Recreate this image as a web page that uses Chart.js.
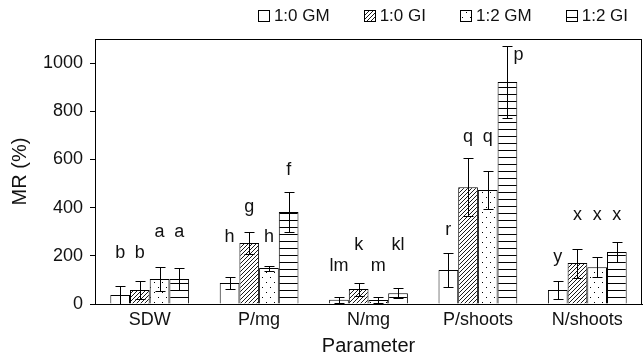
<!DOCTYPE html>
<html>
<head>
<meta charset="utf-8">
<script src="https://cdn.jsdelivr.net/npm/chart.js@4.4.1/dist/chart.umd.min.js"></script>
<style>
  html, body { margin: 0; padding: 0; background: #fff; }
  #wrap { width: 643px; height: 356px; }
</style>
</head>
<body>
<div id="wrap"><canvas id="chart" width="643" height="356"></canvas></div>
<script>
const categories = ["SDW", "P/mg", "N/mg", "P/shoots", "N/shoots"];
const seriesNames = ["1:0 GM", "1:0 GI", "1:2 GM", "1:2 GI"];

// mean MR (%) per parameter
const gm10 = [37, 87, 18, 141, 58];
const gi10 = [58, 253, 62, 485, 170];
const gm12 = [104, 149, 17, 473, 153];
const gi12 = [104, 382, 45, 921, 216];

// error bars (+/-)
const gm10Err = [38, 25, 12, 70, 38];
const gi10Err = [37, 46, 27, 120, 60];
const gm12Err = [50, 10, 12, 79, 42];
const gi12Err = [46, 83, 20, 148, 41];

// significance letters and the height they sit at
const gm10Letters = ["b", "h", "lm", "r", "y"];
const gi10Letters = ["b", "g", "k", "q", "x"];
const gm12Letters = ["a", "h", "m", "q", "x"];
const gi12Letters = ["a", "f", "kl", "p", "x"];
const gm10LetterAt = [211, 278, 158, 307, 195];
const gi10LetterAt = [211, 403, 245, 693, 369];
const gm12LetterAt = [300, 278, 158, 693, 369];
const gi12LetterAt = [300, 556, 245, 1033, 369];

const yTicks = [0, 200, 400, 600, 800, 1000];

const FONT = "'Liberation Sans', Arial, Helvetica, sans-serif";
const INK = "#111";

function makePattern(kind) {
  const c = document.createElement("canvas");
  const p = c.getContext("2d");
  if (kind === "diag") {
    c.width = 4; c.height = 4;
    p.fillStyle = "#fff"; p.fillRect(0, 0, 4, 4);
    p.strokeStyle = "#000"; p.lineWidth = 0.9;
    p.beginPath();
    p.moveTo(-1, 5); p.lineTo(5, -1);
    p.moveTo(-1, 1); p.lineTo(1, -1);
    p.moveTo(3, 5); p.lineTo(5, 3);
    p.stroke();
  } else if (kind === "dots") {
    c.width = 8; c.height = 10;
    p.fillStyle = "#fff"; p.fillRect(0, 0, 8, 10);
    p.fillStyle = "#000";
    p.fillRect(2, 2, 1, 1);
    p.fillRect(6, 7, 1, 1);
  } else if (kind === "hlines") {
    c.width = 4; c.height = 7;
    p.fillStyle = "#fff"; p.fillRect(0, 0, 4, 7);
    p.fillStyle = "#000";
    p.fillRect(0, 3, 4, 1);
  } else {
    c.width = 2; c.height = 2;
    p.fillStyle = "#fff"; p.fillRect(0, 0, 2, 2);
  }
  return p.createPattern(c, "repeat");
}

const fills = [makePattern("plain"), makePattern("diag"), makePattern("dots"), makePattern("hlines")];
const values = [gm10, gi10, gm12, gi12];
const errors = [gm10Err, gi10Err, gm12Err, gi12Err];
const letters = [gm10Letters, gi10Letters, gm12Letters, gi12Letters];
const letterAt = [gm10LetterAt, gi10LetterAt, gm12LetterAt, gi12LetterAt];

const errorBars = {
  id: "errorBars",
  afterDatasetsDraw(chart) {
    const ctx = chart.ctx;
    const y = chart.scales.y;
    ctx.save();
    ctx.strokeStyle = "#000";
    ctx.lineWidth = 1;
    chart.data.datasets.forEach((ds, i) => {
      const meta = chart.getDatasetMeta(i);
      meta.data.forEach((bar, j) => {
        const v = values[i][j], e = errors[i][j];
        const x = Math.round(bar.x) + 0.5;
        const yt = Math.round(y.getPixelForValue(v + e)) + 0.5;
        const yb = Math.round(y.getPixelForValue(Math.max(v - e, 0))) + 0.5;
        ctx.beginPath();
        ctx.moveTo(x, yt); ctx.lineTo(x, yb);
        ctx.moveTo(x - 5, yt); ctx.lineTo(x + 5, yt);
        if (v - e > 0) { ctx.moveTo(x - 5, yb); ctx.lineTo(x + 5, yb); }
        ctx.stroke();
        const ly = y.getPixelForValue(letterAt[i][j]);
        let lx = bar.x;
        if (letterAt[i][j] < v + e) lx += 11;
        ctx.fillStyle = INK;
        ctx.font = "18px " + FONT;
        ctx.textAlign = "center";
        ctx.textBaseline = "middle";
        ctx.fillText(letters[i][j], lx, ly);
      });
    });
    ctx.restore();
  }
};

// frame around the plot and the legend row above it
const frameAndLegend = {
  id: "frameAndLegend",
  afterDraw(chart) {
    const a = chart.chartArea;
    const ctx = chart.ctx;
    ctx.save();
    ctx.strokeStyle = "#000";
    ctx.lineWidth = 1;
    ctx.strokeRect(Math.round(a.left) + 0.5, Math.round(a.top) + 0.5,
      Math.round(a.right - a.left) - 1, Math.round(a.bottom - a.top));

    ctx.font = "17px " + FONT;
    ctx.textBaseline = "middle";
    ctx.textAlign = "left";
    const box = 11, gap = 5, spacing = 34, ly = 15;
    const widths = seriesNames.map(n => box + gap + ctx.measureText(n).width);
    let x = a.right - 14 - widths.reduce((s, w) => s + w, 0) - spacing * (widths.length - 1);
    seriesNames.forEach((name, i) => {
      const bx = Math.round(x) + 0.5, by = Math.round(ly - box / 2) + 0.5;
      ctx.fillStyle = fills[i];
      ctx.fillRect(bx, by, box, box);
      ctx.strokeRect(bx, by, box, box);
      ctx.fillStyle = INK;
      ctx.fillText(name, x + box + gap, ly + 1);
      x += widths[i] + spacing;
    });
    ctx.restore();
  }
};

const data = {
  labels: categories,
  datasets: seriesNames.map((name, i) => ({
    label: name,
    data: values[i],
    backgroundColor: fills[i],
    borderColor: "#000",
    borderWidth: 1,
    borderSkipped: "bottom",
    categoryPercentage: 0.72,
    barPercentage: 1.0
  }))
};

const config = {
  type: "bar",
  data: data,
  options: {
    responsive: false,
    animation: false,
    devicePixelRatio: 1,
    layout: { padding: { left: 0, right: 1, top: 39, bottom: 0 } },
    plugins: {
      tooltip: { enabled: false },
      legend: { display: false }
    },
    scales: {
      x: {
        afterFit(scale) { scale.height = 52; },
        grid: { display: false, drawTicks: false },
        border: { display: true, color: "#000" },
        ticks: { color: INK, font: { family: FONT, size: 18 }, padding: 5 },
        title: {
          display: true,
          text: "Parameter",
          color: INK,
          font: { family: FONT, size: 20, lineHeight: 1 },
          padding: { top: 0, bottom: 0 }
        }
      },
      y: {
        min: 0,
        max: 1100,
        afterFit(scale) { scale.width = 95; },
        afterBuildTicks(scale) {
          scale.ticks = yTicks.map(v => ({ value: v }));
        },
        ticks: {
          color: INK,
          font: { family: FONT, size: 18 },
          padding: 7,
          callback: v => String(v)
        },
        grid: { display: true, drawOnChartArea: false, tickLength: 5, color: "#000" },
        border: { display: true, color: "#000" },
        title: {
          display: true,
          text: "MR (%)",
          color: INK,
          font: { family: FONT, size: 20, lineHeight: 1 },
          padding: { top: 10, bottom: 0 }
        }
      }
    }
  },
  plugins: [errorBars, frameAndLegend]
};

const chart = new Chart(document.getElementById("chart"), config);
</script>
</body>
</html>
